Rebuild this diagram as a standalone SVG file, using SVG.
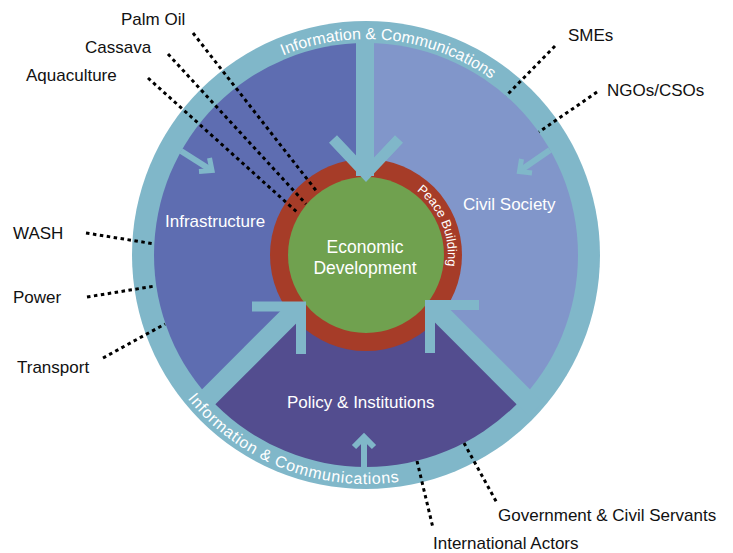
<svg xmlns="http://www.w3.org/2000/svg" width="733" height="553" viewBox="0 0 733 553">
<defs>
<style>
.lbl{font-family:"Liberation Sans",Arial,sans-serif;font-size:17px;fill:#111}
.wt{font-family:"Liberation Sans",Arial,sans-serif;fill:#fff}
.dot{stroke:#000;stroke-width:3;stroke-dasharray:3.5 3.5;fill:none}
.arr{stroke:#80b7c9;fill:none;stroke-linejoin:miter;stroke-linecap:butt;stroke-miterlimit:10}
</style>
<clipPath id="inner"><circle cx="366" cy="255" r="212"/></clipPath>
<path id="topArc" d="M150,255 A216,216 0 0 1 582,255"/>
<path id="botArc" d="M137,255 A229,229 0 0 0 595,255"/>
<path id="peaceArc" d="M284,255 A82,82 0 0 1 448,255 A82,82 0 0 1 284,255"/>
</defs>
<rect width="733" height="553" fill="#fff"/>
<g id="ring">
<circle cx="366" cy="255" r="234" fill="#80b7c9"/>
</g>
<g clip-path="url(#inner)">
<g id="infrastructure"><polygon points="366,239.5 366,0 100,0 100,505.5" fill="#5e6db1"/></g>
<g id="civil-society"><polygon points="366,239.5 366,0 650,0 650,523.5" fill="#8196ca"/></g>
<g id="policy"><polygon points="366,239.5 100,505.5 100,560 650,560 650,523.5" fill="#534d8f"/></g>
</g>
<g id="peace-building">
<circle cx="366" cy="255" r="96" fill="#a63c28"/>
<text class="wt" font-size="12.8"><textPath href="#peaceArc" startOffset="183">Peace Building</textPath></text>
</g>
<g id="economic-development">
<circle cx="366" cy="255" r="78" fill="#70a14f"/>
<text class="wt" font-size="17.5" text-anchor="middle" x="365" y="253">Economic</text>
<text class="wt" font-size="17.5" text-anchor="middle" x="365" y="274">Development</text>
</g>
<g id="arrows">
<line class="arr" x1="365" y1="40" x2="365" y2="176" stroke-width="18"/>
<polyline class="arr" points="333,139 366,174 399,139" stroke-width="11"/>
<line class="arr" x1="195" y1="410.5" x2="296" y2="309.5" stroke-width="20"/>
<polyline class="arr" points="252,306.5 301,306.5 301,354" stroke-width="10"/>
<line class="arr" x1="536" y1="409.5" x2="435" y2="308.5" stroke-width="20"/>
<polyline class="arr" points="479,305 430,305 430,353" stroke-width="10"/>
<line class="arr" x1="181" y1="151" x2="211" y2="170" stroke-width="6"/>
<polyline class="arr" points="209.5,158 212,170.5 199,171.5" stroke-width="5"/>
<line class="arr" x1="550" y1="150" x2="521" y2="170" stroke-width="6"/>
<polyline class="arr" points="521.5,159 519.5,171.5 532,173" stroke-width="5"/>
<line class="arr" x1="364" y1="468" x2="364" y2="438" stroke-width="6"/>
<polyline class="arr" points="354,447 364,437 374,447" stroke-width="6"/>
</g>
<g id="ring-labels">
<text class="wt" font-size="16"><textPath href="#topArc" startOffset="254">Information &amp; Communications</textPath></text>
<text class="wt" font-size="16" letter-spacing="0.7"><textPath href="#botArc" startOffset="155">Information &amp; Communications</textPath></text>
</g>
<g id="sector-labels">
<text class="wt" font-size="17" x="165" y="227">Infrastructure</text>
<text class="wt" font-size="17" x="463" y="210">Civil Society</text>
<text class="wt" font-size="17" x="287" y="408">Policy &amp; Institutions</text>
</g>
<g id="connectors">
<line class="dot" x1="193" y1="33" x2="318" y2="193"/>
<line class="dot" x1="168" y1="54" x2="306" y2="204"/>
<line class="dot" x1="148" y1="78" x2="298" y2="213"/>
<line class="dot" x1="555" y1="46" x2="506" y2="96"/>
<line class="dot" x1="597" y1="92" x2="539" y2="132"/>
<line class="dot" x1="86" y1="233" x2="155" y2="244"/>
<line class="dot" x1="87" y1="297" x2="155" y2="286"/>
<line class="dot" x1="103" y1="358" x2="165" y2="324"/>
<line class="dot" x1="464" y1="443" x2="497" y2="503"/>
<line class="dot" x1="417" y1="461" x2="433" y2="528"/>
</g>
<g id="palm-oil"><text class="lbl" x="121" y="25">Palm Oil</text></g>
<g id="cassava"><text class="lbl" x="85" y="53">Cassava</text></g>
<g id="aquaculture"><text class="lbl" x="26" y="81">Aquaculture</text></g>
<g id="smes"><text class="lbl" x="568" y="41">SMEs</text></g>
<g id="ngos-csos"><text class="lbl" x="607" y="96">NGOs/CSOs</text></g>
<g id="wash"><text class="lbl" x="13" y="239">WASH</text></g>
<g id="power"><text class="lbl" x="13" y="303">Power</text></g>
<g id="transport"><text class="lbl" x="17" y="373">Transport</text></g>
<g id="government"><text class="lbl" x="498" y="521">Government &amp; Civil Servants</text></g>
<g id="international"><text class="lbl" x="433" y="549">International Actors</text></g>
</svg>
